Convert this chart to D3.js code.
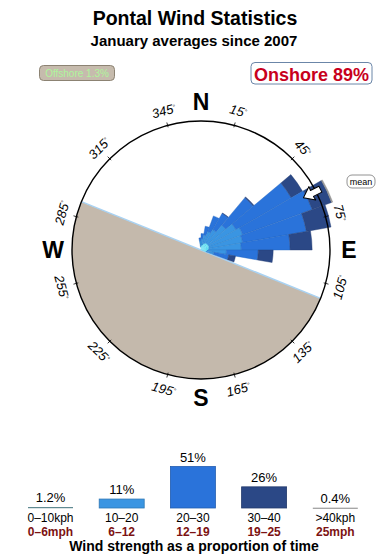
<!DOCTYPE html>
<html>
<head>
<meta charset="utf-8">
<script src="https://cdn.jsdelivr.net/npm/d3@7"></script>
<style>
body { margin: 0; background: #fff; }
text { font-family: "Liberation Sans", Arial, Helvetica, sans-serif; }
</style>
</head>
<body>
<div id="chart"></div>
<script>
// wind rose data, % of time per direction bin (10 deg bins)
const dirs   = [355, 5, 15, 25, 35, 45, 55, 65, 75, 85, 95, 105];
const s0_10  = [0.01, 0.02, 0.03, 0.05, 0.07, 0.08, 0.08, 0.08, 0.07, 0.06, 0.04, 0.03];
const s10_20 = [0.09, 0.13, 0.24, 0.39, 0.57, 1.13, 1.80, 2.18, 1.98, 1.80, 0.70, 0.17];
const s20_30 = [0.07, 0.16, 0.40, 1.07, 1.42, 4.14, 10.6, 13.8, 11.1, 7.26, 3.02, 0.71];
const s30_40 = [0, 0, 0, 0, 0.04, 0.17, 3.31, 6.10, 6.86, 5.06, 2.22, 0.50];
const s40    = [0, 0, 0, 0, 0, 0, 0, 0.40, 0, 0, 0, 0];

// legend
const classes = ["0–10kph", "10–20", "20–30", "30–40", ">40kph"];
const mph = ["0–6mph", "6–12", "12–19", "19–25", "25mph"];
const pct = [1.2, 11, 51, 26, 0.4];
const pctLabels = ["1.2%", "11%", "51%", "26%", "0.4%"];
const colors = ["#5fdcef", "#3a95e2", "#2a73da", "#2b4886", "#9a9a9a"];

const degTicks = [15, 45, 75, 105, 135, 165, 195, 225, 255, 285, 315, 345];
const cardinals = [["N", 0], ["E", 90], ["S", 180], ["W", 270]];
const landFrom = 112, landTo = 292;   // offshore sector (land)
const meanDir = 63;

const W = 390, H = 560;
const cx = 201, cy = 250, R = 129;
const rad = d => d * Math.PI / 180;

const svg = d3.select("#chart").append("svg")
  .attr("width", W).attr("height", H);

// titles
svg.append("text").attr("x", 195).attr("y", 25)
  .attr("text-anchor", "middle").style("font-size", "19.5px").style("font-weight", "bold")
  .text("Pontal Wind Statistics");
svg.append("text").attr("x", 194).attr("y", 46)
  .attr("text-anchor", "middle").style("font-size", "15px").style("font-weight", "bold")
  .text("January averages since 2007");

// offshore / onshore boxes
svg.append("rect").attr("x", 39.5).attr("y", 65.5).attr("width", 75).attr("height", 15)
  .attr("rx", 4).attr("fill", "#c6bbad").attr("stroke", "#8c8373");
svg.append("text").attr("x", 77).attr("y", 77).attr("text-anchor", "middle")
  .style("font-size", "10px").attr("fill", "#aef59c").text("Offshore 1.3%");
svg.append("rect").attr("x", 251).attr("y", 62.5).attr("width", 121).attr("height", 21.5)
  .attr("rx", 4).attr("fill", "#fff").attr("stroke", "#6b86a8");
svg.append("text").attr("x", 311.5).attr("y", 80.5).attr("text-anchor", "middle")
  .style("font-size", "18px").style("font-weight", "bold").attr("fill", "#c8001c").text("Onshore 89%");

const g = svg.append("g").attr("transform", "translate(" + cx + "," + cy + ")");

// land half
g.append("path")
  .attr("d", d3.arc()({ innerRadius: 0, outerRadius: R, startAngle: rad(landFrom), endAngle: rad(landTo) }))
  .attr("fill", "#c4b9ac");
g.append("line")
  .attr("x1", R * Math.sin(rad(landFrom))).attr("y1", -R * Math.cos(rad(landFrom)))
  .attr("x2", R * Math.sin(rad(landTo))).attr("y2", -R * Math.cos(rad(landTo)))
  .attr("stroke", "#a9d2f2").attr("stroke-width", 1.5);

// petals
const r = d3.scaleSqrt().domain([0, 19.1]).range([0, R]);
const series = [s0_10, s10_20, s20_30, s30_40, s40];
const stacked = [];
dirs.forEach(function (d, i) {
  let c = 0;
  series.forEach(function (s, k) {
    if (s[i] > 0) stacked.push({ dir: d, k: k, r0: c, r1: c + s[i] });
    c += s[i];
  });
});
const arc = d3.arc()
  .innerRadius(function (d) { return r(d.r0); })
  .outerRadius(function (d) { return r(d.r1); })
  .startAngle(function (d) { return rad(d.dir - 5); })
  .endAngle(function (d) { return rad(d.dir + 5); });
g.selectAll("path.petal").data(stacked.filter(function (d) { return d.k > 0; })).enter()
  .append("path").attr("class", "petal")
  .attr("d", arc)
  .attr("fill", function (d) { return colors[d.k]; })
  .attr("stroke", function (d) { return d3.color(colors[d.k]).darker(0.4); })
  .attr("stroke-width", 0.4);
g.selectAll("path.calm").data(stacked.filter(function (d) { return d.k === 0; })).enter()
  .append("path").attr("class", "calm")
  .attr("d", arc).attr("fill", colors[0]);

// circle and ticks
g.append("circle").attr("r", R).attr("fill", "none").attr("stroke", "#000").attr("stroke-width", 1.4);
g.selectAll("line.tick").data(degTicks).enter().append("line")
  .attr("x1", function (d) { return (R - 2) * Math.sin(rad(d)); })
  .attr("y1", function (d) { return -(R - 2) * Math.cos(rad(d)); })
  .attr("x2", function (d) { return (R + 3) * Math.sin(rad(d)); })
  .attr("y2", function (d) { return -(R + 3) * Math.cos(rad(d)); })
  .attr("stroke", "#000").attr("stroke-width", 0.8);

// degree labels
const dl = g.selectAll("text.deg").data(degTicks).enter().append("text")
  .attr("transform", function (d) {
    const rot = (d > 90 && d < 270) ? d - 180 : (d >= 270 ? d - 360 : d);
    return "translate(" + (144 * Math.sin(rad(d))) + "," + (-144 * Math.cos(rad(d))) + ") rotate(" + rot + ")";
  })
  .attr("text-anchor", "middle").attr("dy", "0.35em")
  .style("font-size", "13px").style("font-style", "italic");
dl.append("tspan").text(function (d) { return d; });
dl.append("tspan").attr("dy", "-0.55em").style("font-size", "6.5px").text("°");

// compass letters
g.selectAll("text.card").data(cardinals).enter().append("text")
  .attr("x", function (d) { return 148 * Math.sin(rad(d[1])); })
  .attr("y", function (d) { return -148 * Math.cos(rad(d[1])); })
  .attr("dy", "0.36em").attr("text-anchor", "middle")
  .style("font-size", "23px").style("font-weight", "bold").text(function (d) { return d[0]; });

// mean arrow (points toward the centre)
g.append("path")
  .attr("transform", "rotate(" + meanDir + ")")
  .attr("d", "M0,-115 L7.5,-125 L3.3,-124.5 L3.3,-134 L-3.3,-134 L-3.3,-124.5 L-7.5,-125 Z")
  .attr("fill", "#fff").attr("stroke", "#000").attr("stroke-width", 1).attr("stroke-linejoin", "round");
svg.append("rect").attr("x", 347).attr("y", 175).attr("width", 28).attr("height", 13)
  .attr("rx", 5).attr("fill", "#fff").attr("stroke", "#777").attr("stroke-width", 0.8);
svg.append("text").attr("x", 361).attr("y", 184.5).attr("text-anchor", "middle")
  .style("font-size", "9px").text("mean");

// speed legend
const lx = d3.scalePoint().domain(classes).range([50.5, 335.3]);
const ly = d3.scaleLinear().domain([0, 51]).range([508, 466.5]);
const bw = 45;
const leg = svg.append("g");
leg.selectAll("rect").data(classes).enter().append("rect")
  .attr("x", function (d) { return lx(d) - bw / 2; })
  .attr("y", function (d, i) { return ly(pct[i]); })
  .attr("width", bw)
  .attr("height", function (d, i) { return Math.max(1.2, ly(0) - ly(pct[i])); })
  .attr("fill", function (d, i) { return i === 0 ? "#5d8890" : colors[i]; })
  .attr("stroke", function (d, i) { return (i === 0 || i === 4) ? "none" : d3.color(colors[i]).darker(0.6); })
  .attr("stroke-width", 0.8);
leg.selectAll("text.pct").data(classes).enter().append("text")
  .attr("x", function (d) { return lx(d); })
  .attr("y", function (d, i) { return ly(pct[i]) - 5; })
  .attr("text-anchor", "middle").style("font-size", "13px")
  .text(function (d, i) { return pctLabels[i]; });
leg.selectAll("text.cls").data(classes).enter().append("text")
  .attr("x", function (d) { return lx(d); }).attr("y", 522)
  .attr("text-anchor", "middle").style("font-size", "12px")
  .text(function (d) { return d; });
leg.selectAll("text.mph").data(classes).enter().append("text")
  .attr("x", function (d) { return lx(d); }).attr("y", 535.5)
  .attr("text-anchor", "middle").style("font-size", "12px").style("font-weight", "bold")
  .attr("fill", "#7c1212")
  .text(function (d, i) { return mph[i]; });
svg.append("text").attr("x", 194).attr("y", 551).attr("text-anchor", "middle")
  .style("font-size", "14px").style("font-weight", "bold")
  .text("Wind strength as a proportion of time");
</script>
</body>
</html>
